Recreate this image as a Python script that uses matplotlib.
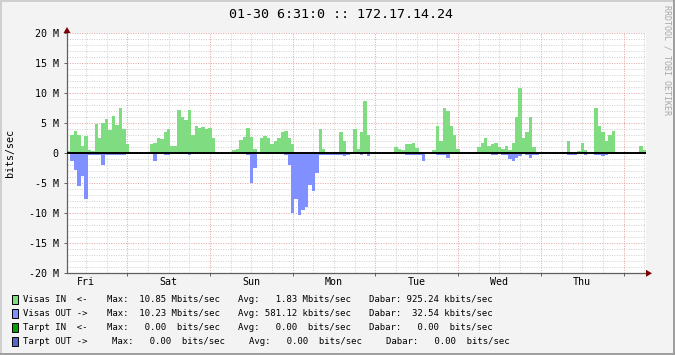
import matplotlib
matplotlib.use('Agg')
import matplotlib.pyplot as plt
from matplotlib.patches import Rectangle, Polygon
import numpy as np

W, H = 675, 355

# --- data (hourly, M bits/sec), starting Fri 06:31 ---
start_hour = 6 + 31 / 60.0
visas_in = [
    0.4, 3.0, 3.7, 3.0, 1.2, 2.9, 0.5, 0.4, 4.9, 2.6, 5.0, 5.8, 3.9, 6.2, 4.7, 7.5, 4.0, 1.5, 0, 0, 0, 0, 0, 0,
    1.5, 1.7, 2.6, 2.4, 3.5, 4.0, 1.3, 1.2, 7.3, 6.0, 5.5, 7.2, 3.0, 4.5, 4.2, 4.4, 4.0, 4.3, 2.6, 0, 0, 0, 0, 0,
    0.5, 0.7, 2.2, 2.7, 4.2, 2.8, 0.8, 0.0, 2.5, 2.9, 2.5, 1.5, 2.0, 2.5, 3.5, 3.8, 2.6, 1.5, 0.2, 0.2, 0.2, 0.2, 0.2, 0.2,
    0.2, 4.0, 0.8, 0.2, 0.2, 0.3, 0.3, 3.5, 2.0, 0.3, 0.3, 4.0, 0.8, 3.6, 8.8, 3.0, 0.2, 0, 0, 0, 0, 0, 0, 1.0,
    0.8, 0.6, 1.5, 1.5, 1.8, 0.9, 0.3, 0.3, 0.3, 0.1, 0.5, 4.6, 2.0, 7.5, 7.0, 4.5, 3.0, 0.8, 0, 0, 0.2, 0, 0, 1.0,
    1.8, 2.6, 1.2, 1.5, 1.8, 1.0, 0.8, 1.2, 0.6, 1.8, 6.0, 10.85, 2.5, 3.5, 6.0, 1.0, 0, 0, 0.3, 0.2, 0, 0.2, 0, 0.2,
    0.2, 2.0, 0.3, 0.3, 0.4, 1.8, 0.5, 0.2, 0.2, 7.5, 4.5, 3.5, 2.0, 3.0, 3.7, 0.2, 0, 0, 0, 0, 0, 0, 1.3, 0.5,
]
visas_out = [
    0, 1.2, 2.7, 5.4, 3.8, 7.6, 0.3, 0.2, 0.2, 0.2, 2.0, 0.2, 0.3, 0.3, 0.3, 0.3, 0.3, 0, 0, 0, 0, 0, 0, 0,
    0, 1.2, 0, 0, 0.2, 0.2, 0, 0, 0, 0, 0, 0.3, 0, 0, 0, 0, 0, 0, 0, 0, 0, 0, 0, 0,
    0, 0, 0, 0, 0.2, 5.0, 2.4, 0, 0, 0, 0, 0, 0, 0, 0, 0.3, 2.0, 10.0, 7.6, 10.23, 9.5, 8.9, 5.2, 6.2,
    3.2, 0.3, 0.2, 0.2, 0.2, 0.2, 0.2, 0.2, 0.4, 0.2, 0, 0, 0, 0.2, 0, 0.4, 0, 0, 0, 0, 0, 0, 0, 0,
    0, 0, 0.2, 0.2, 0.2, 0.2, 0.2, 1.3, 0, 0, 0, 0.2, 0.2, 0.3, 0.8, 0, 0, 0, 0, 0, 0, 0, 0, 0,
    0, 0, 0, 0.3, 0.3, 0, 0.2, 0.3, 0.9, 1.3, 0.7, 0.5, 0, 0.3, 0.8, 0.3, 0.2, 0, 0, 0, 0, 0, 0, 0,
    0, 0.2, 0.2, 0.2, 0, 0, 0.2, 0, 0, 0.2, 0.2, 0.45, 0.2, 0, 0, 0, 0, 0, 0, 0, 0, 0, 0, 0,
]
day_names = ['Fri', 'Sat', 'Sun', 'Mon', 'Tue', 'Wed', 'Thu']
y_ticks = [-20, -15, -10, -5, 0, 5, 10, 15, 20]

legend_rows = [
    ('Visas IN  <-', '#80DC80', ' 10.85 Mbits/sec', '  1.83 Mbits/sec', '925.24 kbits/sec'),
    ('Visas OUT ->', '#8090FF', ' 10.23 Mbits/sec', '581.12 kbits/sec', ' 32.54 kbits/sec'),
    ('Tarpt IN  <-', '#00A000', '  0.00  bits/sec', '  0.00  bits/sec', '  0.00  bits/sec'),
    ('Tarpt OUT ->', '#5468C8', '  0.00  bits/sec', '  0.00  bits/sec', '  0.00  bits/sec'),
]
title = '01-30 6:31:0 :: 172.17.14.24'

MONO = 'DejaVu Sans Mono'


def px(x, y):
    return x / W, 1 - y / H


fig = plt.figure(figsize=(W / 100, H / 100), dpi=100, facecolor='#F3F3F3')

# frame shading
fig.add_artist(Rectangle((0, 1 - 2 / H), 1, 2 / H, transform=fig.transFigure, color='#CFCFCF', lw=0))
fig.add_artist(Rectangle((0, 0), 2 / W, 1, transform=fig.transFigure, color='#CFCFCF', lw=0))
fig.add_artist(Rectangle((0, 0), 1, 2 / H, transform=fig.transFigure, color='#9E9E9E', lw=0))
fig.add_artist(Rectangle((1 - 2 / W, 0), 2 / W, 1, transform=fig.transFigure, color='#9E9E9E', lw=0))

left, right, top, bottom = 67, 646, 33.3, 273.3
ax = fig.add_axes([left / W, 1 - bottom / H, (right - left) / W, (bottom - top) / H])
ax.set_facecolor('white')

n = len(visas_in)
t = start_hour + np.arange(n)
ax.set_xlim(start_hour, start_hour + n)
ax.set_ylim(-20, 20)

# grid
for m in range(-20, 21):
    if m % 5 == 0:
        ax.axhline(m, color='#E2A0A0', lw=0.7, ls=(0, (1, 1.5)), zorder=1)
    else:
        ax.axhline(m, color='#CFCFCF', lw=0.7, ls=(0, (1, 1.5)), zorder=1)
for h in range(6, 180, 6):
    if start_hour < h < start_hour + n:
        if h % 24 == 0:
            ax.axvline(h, color='#E2A0A0', lw=0.7, ls=(0, (1, 1.5)), zorder=1)
        else:
            ax.axvline(h, color='#CFCFCF', lw=0.7, ls=(0, (1, 1.5)), zorder=1)

ax.bar(t, visas_in, width=1.0, align='edge', color='#80DC80', lw=0, zorder=2)
ax.bar(t, [-v for v in visas_out], width=1.0, align='edge', color='#8090FF', lw=0, zorder=2)
ax.axhline(0, color='black', lw=1.4, zorder=3)

for s in ['top', 'right']:
    ax.spines[s].set_visible(False)
for s in ['left', 'bottom']:
    ax.spines[s].set_color('#606060')
    ax.spines[s].set_linewidth(0.9)

ax.set_yticks(y_ticks)
ax.set_yticklabels([('%d M' % v) if v != 0 else '0' for v in y_ticks], family=MONO, fontsize=7.2)
ax.tick_params(axis='y', length=2, width=0.7, color='#606060', pad=4)

ax.set_xticks([h for h in range(24, 175, 24)])
ax.set_xticklabels([])
ax.set_xticks([12 + 24 * k for k in range(len(day_names))], minor=True)
ax.set_xticklabels(day_names, minor=True, family=MONO, fontsize=7.2)
ax.tick_params(axis='x', which='major', length=2, width=0.7, color='#606060')
ax.tick_params(axis='x', which='minor', length=0, pad=3)

# axis arrows
fig.add_artist(Polygon([px(63.5, 33), px(70.5, 33), px(67, 27)], closed=True,
                       transform=fig.transFigure, color='#7F0000', lw=0))
fig.add_artist(Polygon([px(646, 269.8), px(646, 276.8), px(652, 273.3)], closed=True,
                       transform=fig.transFigure, color='#7F0000', lw=0))

# texts
fig.text(*px(341, 15), title, ha='center', va='center', family=MONO, fontsize=9.6)
fig.text(*px(10, 153), 'bits/sec', ha='center', va='center', rotation=90, family=MONO, fontsize=7.2)
fig.text(*px(667, 60), 'RRDTOOL / TOBI OETIKER', ha='center', va='center', rotation=270,
         family=MONO, fontsize=6, color='#A8A8A8')

row_y = [299, 313.3, 327.3, 341.3]
for i, (name, col, mx, avg, dab) in enumerate(legend_rows):
    y = row_y[i]
    shift = (5.6, 11.0, 16.7) if i == 3 else (0, 0, 0)
    fig.add_artist(Rectangle(px(11.5, y + 4.5), 6 / W, 9 / H, transform=fig.transFigure,
                             facecolor=col, edgecolor='black', lw=0.7))
    fig.text(*px(23.3, y), name, ha='left', va='center', family=MONO, fontsize=6.5)
    fig.text(*px(106.7 + shift[0], y), 'Max: ' + mx, ha='left', va='center', family=MONO, fontsize=6.5)
    fig.text(*px(238.3 + shift[1], y), 'Avg: ' + avg, ha='left', va='center', family=MONO, fontsize=6.5)
    fig.text(*px(369.3 + shift[2], y), 'Dabar: ' + dab, ha='left', va='center', family=MONO, fontsize=6.5)

fig.savefig('out.png', dpi=100, facecolor=fig.get_facecolor())
